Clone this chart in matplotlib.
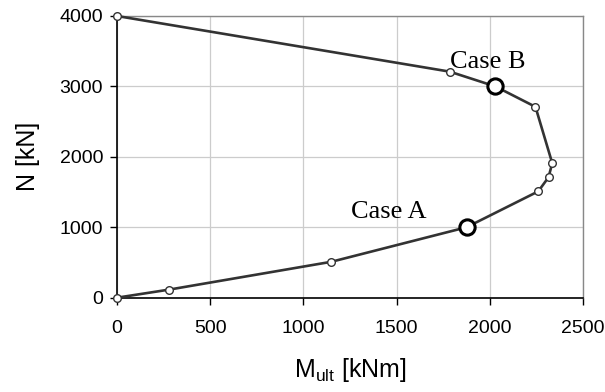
import matplotlib
matplotlib.use('Agg')
import matplotlib.pyplot as plt

# interaction diagram points (M_ult, N)
m_ult = [0, 280, 1150, 1875, 2260, 2315, 2335, 2245, 2030, 1785, 0]
n_axial = [0, 115, 510, 1000, 1510, 1710, 1910, 2710, 3000, 3210, 4000]

# the two load cases
case_names = ['Case A', 'Case B']
case_m = [1875, 2030]
case_n = [1000, 3000]

plt.rcParams['font.family'] = ['Liberation Sans', 'DejaVu Sans']

fig = plt.figure(figsize=(6.05, 3.92), dpi=100)
ax = fig.add_axes([117 / 605, 1 - 297.7 / 392, (583 - 117) / 605, (297.7 - 16) / 392])

ax.plot(m_ult, n_axial, color='#333333', lw=1.9, marker='o', ms=5.5,
        mfc='white', mec='#333333', mew=1.0, zorder=3, clip_on=False)
ax.plot(case_m, case_n, ls='none', marker='o', ms=11, mfc='white',
        mec='black', mew=2.2, zorder=4, clip_on=False)

ax.text(1258, 1134, case_names[0], family='Liberation Serif',
        fontsize=19, ha='left', va='baseline')
ax.text(1788, 3267, case_names[1], family='Liberation Serif',
        fontsize=19, ha='left', va='baseline')

ax.set_xlim(0, 2500)
ax.set_ylim(0, 4000)
ax.set_xticks(range(0, 2501, 500))
ax.set_yticks(range(0, 4001, 1000))
ax.grid(True, color='#cccccc', lw=0.9)
ax.set_axisbelow(True)

for side in ['top', 'right']:
    ax.spines[side].set_color('#888888')
    ax.spines[side].set_linewidth(1.0)
for side in ['left', 'bottom']:
    ax.spines[side].set_color('black')
    ax.spines[side].set_linewidth(1.2)

ax.tick_params(direction='out', length=5, width=1.0, labelsize=14)
ax.tick_params(axis='x', pad=11)
ax.tick_params(axis='y', pad=5)
ax.set_xlabel('$\\mathregular{M_{ult}}$ [kNm]', fontsize=18, labelpad=14)
ax.set_ylabel('N [kN]', fontsize=18, labelpad=14)

fig.savefig('out.png', dpi=100)
